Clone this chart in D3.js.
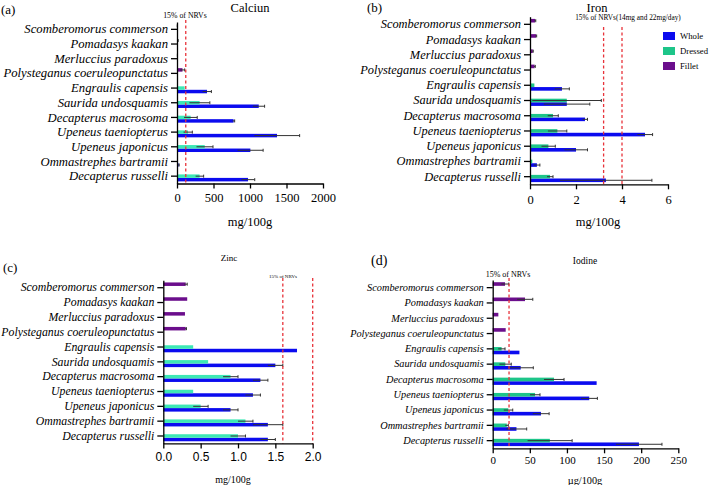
<!DOCTYPE html>
<html>
<head>
<meta charset="utf-8">
<script src="https://d3js.org/d3.v7.min.js"></script>
<style>
    body { margin: 0; background: #fff; }
    .axis .domain, .axis line { stroke: #000; stroke-width: 1.3; }
</style>
</head>
<body>
<svg id="chart" width="709" height="485"></svg>
<script>
// Species, top to bottom
const species = [
    "Scomberomorus commerson", "Pomadasys kaakan", "Merluccius paradoxus",
    "Polysteganus coeruleopunctatus", "Engraulis capensis", "Saurida undosquamis",
    "Decapterus macrosoma", "Upeneus taeniopterus", "Upeneus japonicus",
    "Ommastrephes bartramii", "Decapterus russelli"
];
const seriesNames = ["Whole", "Dressed", "Fillet"];

// Calcium (mg/100g)
const calciumWhole      = [null, null, null, null, 411, 1120, 775, 1370, 1005, 22, 973];
const calciumWholeErr   = [null, null, null, null, 60, 80, 15, 310, 175, 8, 92];
const calciumDressed    = [null, null, null, null, 105, 310, 187, 150, 380, 5, 310];
const calciumDressedErr = [null, null, null, null, 0, 140, 90, 60, 113, 0, 55];
const calciumFillet     = [2, 6, 3, 75, null, null, null, null, null, null, null];
const calciumFilletErr  = [1, 10, 2, 30, null, null, null, null, null, null, null];
const calciumNRV = [120];

// Iron (mg/100g)
const ironWhole      = [null, null, null, null, 1.39, 1.6, 2.39, 5.0, 2.0, 0.3, 3.3];
const ironWholeErr   = [null, null, null, null, 0.32, 1.0, 0.11, 0.33, 0.5, 0.13, 2.0];
const ironDressed    = [null, null, null, null, 0.19, 1.6, 1.0, 1.19, 0.8, 0.1, 0.87];
const ironDressedErr = [null, null, null, null, 0, 1.5, 0.23, 0.41, 0.3, 0, 0.13];
const ironFillet     = [0.22, 0.26, 0.12, 0.2, null, null, null, null, null, null, null];
const ironFilletErr  = [0.03, 0.03, 0.02, 0.03, null, null, null, null, null, null, null];
const ironNRV = [3.2, 4.0];

// Zinc (mg/100g)
const zincWhole      = [null, null, null, null, 1.79, 1.5, 1.3, 1.2, 0.9, 1.4, 1.4];
const zincWholeErr   = [null, null, null, null, 0, 0.1, 0.1, 0.1, 0.1, 0.2, 0.1];
const zincDressed    = [null, null, null, null, 0.4, 0.6, 0.9, 0.4, 0.5, 1.1, 1.0];
const zincDressedErr = [null, null, null, null, 0, 0, 0.1, 0, 0.1, 0.1, 0.1];
const zincFillet     = [0.30, 0.32, 0.29, 0.30, null, null, null, null, null, null, null];
const zincFilletErr  = [0.02, 0, 0, 0.01, null, null, null, null, null, null, null];
const zincNRV = [1.6, 2.0];

// Iodine (µg/100g)
const iodineWhole      = [null, null, null, null, 36, 37.7, 140, 130, 65, 32, 197];
const iodineWholeErr   = [null, null, null, null, 0, 17, 0, 11, 11, 13.8, 31];
const iodineDressed    = [null, null, null, null, 12, 17, 82.6, 57, 21, 19, 77];
const iodineDressedErr = [null, null, null, null, 4.6, 8, 13.5, 6.7, 6, 2, 30];
const iodineFillet     = [16.6, 43.5, 7.6, 17.5, null, null, null, null, null, null, null];
const iodineFilletErr  = [5, 10.5, 0, 0, null, null, null, null, null, null, null];
const iodineNRV = [22];

const svg = d3.select("#chart");

const serif = "'Liberation Serif', 'Times New Roman', serif";
const sans = "'Liberation Sans', Arial, sans-serif";

function drawPanel(p) {
    const g = svg.append("g");

    const x = d3.scaleLinear().domain([0, p.max]).range([p.x0, p.x1]);
    const y = d3.scaleBand().domain(species).range([p.yTop, p.yBottom]);
    // fillet sits on top, dressed in the middle, whole below
    const sub = d3.scaleBand()
        .domain(["Fillet", "Dressed", "Whole"])
        .range([0, y.bandwidth()])
        .paddingOuter(0.61);

    const colors = { Whole: "#0b0bef", Dressed: p.dressedColor, Fillet: "#6b0e8c" };

    // flatten into bar records
    const bars = [];
    species.forEach((s, i) => {
        seriesNames.forEach(name => {
            const v = p.data[name][0][i];
            if (v !== null) bars.push({ s: s, name: name, v: v, e: p.data[name][1][i] });
        });
    });

    // bars
    g.append("g").selectAll("rect")
        .data(bars)
        .join("rect")
        .attr("x", x(0))
        .attr("y", d => y(d.s) + sub(d.name))
        .attr("width", d => x(d.v) - x(0))
        .attr("height", sub.bandwidth())
        .attr("fill", d => colors[d.name]);

    // error bars
    const errs = bars.filter(d => d.e > 0);
    const eg = g.append("g").attr("stroke", "#333").attr("stroke-width", 1);
    eg.selectAll("line.err")
        .data(errs)
        .join("line")
        .attr("class", "err")
        .attr("x1", d => x(Math.max(0, d.v - d.e)))
        .attr("x2", d => x(d.v + d.e))
        .attr("y1", d => y(d.s) + sub(d.name) + sub.bandwidth() / 2)
        .attr("y2", d => y(d.s) + sub(d.name) + sub.bandwidth() / 2);
    eg.selectAll("line.cap")
        .data(errs)
        .join("line")
        .attr("class", "cap")
        .attr("x1", d => x(d.v + d.e))
        .attr("x2", d => x(d.v + d.e))
        .attr("y1", d => y(d.s) + sub(d.name) + sub.bandwidth() / 2 - 1.5)
        .attr("y2", d => y(d.s) + sub(d.name) + sub.bandwidth() / 2 + 1.5);

    // NRV reference lines
    g.append("g").selectAll("line")
        .data(p.nrv)
        .join("line")
        .attr("x1", d => x(d))
        .attr("x2", d => x(d))
        .attr("y1", p.redTop)
        .attr("y2", p.yBottom)
        .attr("stroke", "#e8333a")
        .attr("stroke-width", 1.3)
        .attr("stroke-dasharray", "3,2.5");

    // axes
    const leftAxis = d3.axisLeft(y).tickSize(6).tickSizeOuter(0).tickPadding(3);
    const la = g.append("g")
        .attr("class", "axis")
        .attr("transform", `translate(${p.x0},0)`)
        .call(leftAxis);
    la.selectAll("text")
        .attr("font-family", serif)
        .attr("font-style", "italic")
        .attr("font-size", p.labelSize)
        .attr("fill", "#000");

    const bottomAxis = d3.axisBottom(x)
        .tickValues(p.ticks)
        .tickFormat(p.fmt)
        .tickSize(5)
        .tickSizeOuter(0)
        .tickPadding(p.tickPad);
    const ba = g.append("g")
        .attr("class", "axis")
        .attr("transform", `translate(0,${p.yBottom})`)
        .call(bottomAxis);
    ba.selectAll("text")
        .attr("font-family", p.tickFont)
        .attr("font-size", p.tickSize)
        .attr("fill", "#000");

    // annotations
    const text = (t, tx, ty, size, anchor, font) => g.append("text")
        .attr("x", tx).attr("y", ty)
        .attr("font-family", font || serif)
        .attr("font-size", size)
        .attr("text-anchor", anchor || "middle")
        .text(t);

    text(p.letter, p.letterX, p.letterY, p.letterSize, "start");
    text(p.title, p.titleX, p.titleY, p.titleSize);
    text(p.nrvLabel, p.nrvX, p.nrvY, p.nrvSize);
    text(p.unit, p.unitX, p.unitY, p.unitSize);

    return colors;
}

drawPanel({
    data: { Whole: [calciumWhole, calciumWholeErr], Dressed: [calciumDressed, calciumDressedErr], Fillet: [calciumFillet, calciumFilletErr] },
    nrv: calciumNRV, max: 2000, ticks: [0, 500, 1000, 1500, 2000], fmt: d3.format("d"),
    x0: 177, x1: 323, yTop: 22, yBottom: 183.5, redTop: 20,
    dressedColor: "#3de8b5", labelSize: 12.7, tickFont: serif, tickSize: 12.5, tickPad: 5,
    letter: "(a)", letterX: 1, letterY: 14, letterSize: 13,
    title: "Calciun", titleX: 250, titleY: 12, titleSize: 12.5,
    nrvLabel: "15% of NRVs", nrvX: 185, nrvY: 17.5, nrvSize: 7.8,
    unit: "mg/100g", unitX: 250, unitY: 226, unitSize: 12.5
});

const legendColors = drawPanel({
    data: { Whole: [ironWhole, ironWholeErr], Dressed: [ironDressed, ironDressedErr], Fillet: [ironFillet, ironFilletErr] },
    nrv: ironNRV, max: 6, ticks: [0, 2, 4, 6], fmt: d3.format("d"),
    x0: 530, x1: 668, yTop: 16.7, yBottom: 184.3, redTop: 27,
    dressedColor: "#1dc589", labelSize: 12.4, tickFont: serif, tickSize: 12.5, tickPad: 6,
    letter: "(b)", letterX: 367, letterY: 12, letterSize: 13,
    title: "Iron", titleX: 597, titleY: 11.5, titleSize: 12.5,
    nrvLabel: "15% of NRVs(14mg and 22mg/day)", nrvX: 628, nrvY: 20, nrvSize: 7.3,
    unit: "mg/100g", unitX: 598, unitY: 226, unitSize: 12.5
});

// legend for panel (b)
const legend = svg.append("g").attr("transform", "translate(663,0)");
const legendY = [36, 51, 66];
seriesNames.forEach((name, i) => {
    legend.append("rect")
        .attr("x", 0).attr("y", legendY[i] - 4)
        .attr("width", 12).attr("height", 8)
        .attr("fill", legendColors[name]);
    legend.append("text")
        .attr("x", 17).attr("y", legendY[i] + 3)
        .attr("font-family", serif)
        .attr("font-size", 8.7)
        .text(name);
});

drawPanel({
    data: { Whole: [zincWhole, zincWholeErr], Dressed: [zincDressed, zincDressedErr], Fillet: [zincFillet, zincFilletErr] },
    nrv: zincNRV, max: 2, ticks: [0, 0.5, 1, 1.5, 2], fmt: d3.format(".1f"),
    x0: 163.3, x1: 312.7, yTop: 280.3, yBottom: 443.4, redTop: 278,
    dressedColor: "#3de8b5", labelSize: 11.8, tickFont: sans, tickSize: 12, tickPad: 4,
    letter: "(c)", letterX: 3, letterY: 272, letterSize: 13,
    title: "Zinc", titleX: 229, titleY: 261, titleSize: 9,
    nrvLabel: "15% of NRVs", nrvX: 283, nrvY: 277.5, nrvSize: 5,
    unit: "mg/100g", unitX: 233, unitY: 482.5, unitSize: 10
});

drawPanel({
    data: { Whole: [iodineWhole, iodineWholeErr], Dressed: [iodineDressed, iodineDressedErr], Fillet: [iodineFillet, iodineFilletErr] },
    nrv: iodineNRV, max: 250, ticks: [0, 50, 100, 150, 200, 250], fmt: d3.format("d"),
    x0: 492.7, x1: 678.3, yTop: 280, yBottom: 448.3, redTop: 278,
    dressedColor: "#1dc589", labelSize: 10.3, tickFont: serif, tickSize: 11, tickPad: 3,
    letter: "(d)", letterX: 371, letterY: 265, letterSize: 14,
    title: "Iodine", titleX: 585, titleY: 263.5, titleSize: 9.5,
    nrvLabel: "15% of NRVs", nrvX: 508, nrvY: 277, nrvSize: 8,
    unit: "\u00b5g/100g", unitX: 585, unitY: 483.5, unitSize: 10.3
});
</script>
</body>
</html>
